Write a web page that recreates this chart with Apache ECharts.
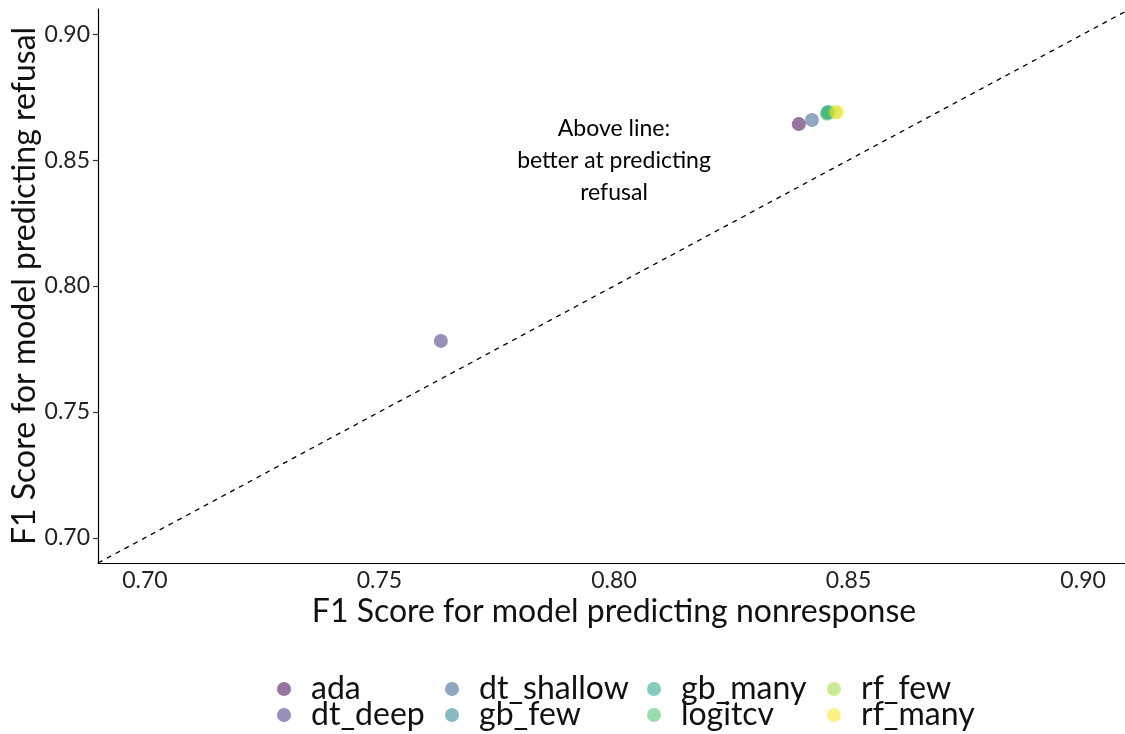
<!DOCTYPE html>
<html>
<head>
<meta charset="utf-8">
<script src="https://cdn.jsdelivr.net/npm/echarts@6/dist/echarts.min.js"></script>
<style>
html,body{margin:0;padding:0;background:#fff;}
#c{width:1125px;height:734px;}
</style>
</head>
<body>
<div id="c"></div>
<script>
const models = ['ada','dt_deep','dt_shallow','gb_few','gb_many','logitcv','rf_few','rf_many'];
const f1Nonresponse = [0.8394, 0.7631, 0.8422, 0.8455, 0.8457, 0.8454, 0.8471, 0.8476];
const f1Refusal     = [0.8643, 0.7782, 0.8659, 0.8688, 0.8691, 0.8684, 0.8690, 0.8690];
const xTicks = [0.70, 0.75, 0.80, 0.85, 0.90];
const yTicks = [0.70, 0.75, 0.80, 0.85, 0.90];
const diagonal = [[0.69, 0.69], [0.91, 0.91]];
const annotationText = 'Above line:\nbetter at predicting\nrefusal';
const annotationAt = [0.80, 0.8497];

const colors = ['#440154','#46337E','#365C8D','#277F8E','#1FA187','#4AC16D','#9FDA3A','#FDE725'];
const FONT = 'Lato';

const series = [{
  type: 'line',
  data: diagonal,
  symbol: 'none',
  silent: true,
  lineStyle: {color: '#000', width: 1.3, type: [5, 5]},
  z: 1
}];
models.forEach((m, i) => {
  series.push({
    name: m,
    type: 'scatter',
    data: [[f1Nonresponse[i], f1Refusal[i]]],
    symbolSize: 14,
    itemStyle: {color: colors[i], opacity: 0.55},
    z: 3
  });
});
series.push({
  type: 'scatter',
  data: [annotationAt],
  symbolSize: 0,
  silent: true,
  itemStyle: {opacity: 1},
  label: {
    show: true, position: 'inside', formatter: annotationText,
    fontFamily: FONT, fontSize: 23, color: '#000', lineHeight: 32, align: 'center'
  }
});

// legend layout: 4 columns x 2 rows, filled column-wise
const legendIconCx = [284, 452, 654, 834];
const legendRowCy = [688, 714];
const legends = models.map((m, i) => {
  const col = Math.floor(i / 2), row = i % 2;
  return {
    data: [{name: m, itemStyle: {opacity: 0.55}}],
    left: legendIconCx[col] - 7,
    top: legendRowCy[row] - 15,
    icon: 'circle',
    itemWidth: 14,
    itemHeight: 14,
    padding: 0,
    selectedMode: false,
    textStyle: {fontFamily: FONT, fontSize: 32, lineHeight: 30, color: '#111', padding: [0,0,0,15]}
  };
});

const chart = echarts.init(document.getElementById('c'), null, {renderer: 'canvas'});
chart.setOption({
  animation: false,
  backgroundColor: '#fff',
  color: colors,
  legend: legends,
  grid: {left: 98, width: 1032, top: 9, bottom: 171, containLabel: false, outerBoundsMode: 'none'},
  xAxis: {
    type: 'value', min: 0.69, max: 0.91,
    name: 'F1 Score for model predicting nonresponse',
    nameLocation: 'middle', nameGap: 33, nameMoveOverlap: false,
    nameTextStyle: {fontFamily: FONT, fontSize: 32, color: '#111'},
    axisLine: {lineStyle: {color: '#000', width: 1.2}},
    axisTick: {show: false},
    splitLine: {show: false},
    axisLabel: {customValues: xTicks, formatter: v => v.toFixed(2),
      fontFamily: FONT, fontSize: 23, color: '#222', margin: 6}
  },
  yAxis: {
    type: 'value', min: 0.69, max: 0.91,
    name: 'F1 Score for model predicting refusal',
    nameLocation: 'middle', nameGap: 57, nameMoveOverlap: false,
    nameTextStyle: {fontFamily: FONT, fontSize: 32, color: '#111'},
    axisLine: {show: true, lineStyle: {color: '#000', width: 1.2}},
    axisTick: {show: true, customValues: yTicks, length: 5, lineStyle: {color: '#333', width: 1.2}},
    splitLine: {show: false},
    axisLabel: {customValues: yTicks, formatter: v => v.toFixed(2),
      fontFamily: FONT, fontSize: 23, color: '#222', margin: 8}
  },
  series: series
});
</script>
</body>
</html>
